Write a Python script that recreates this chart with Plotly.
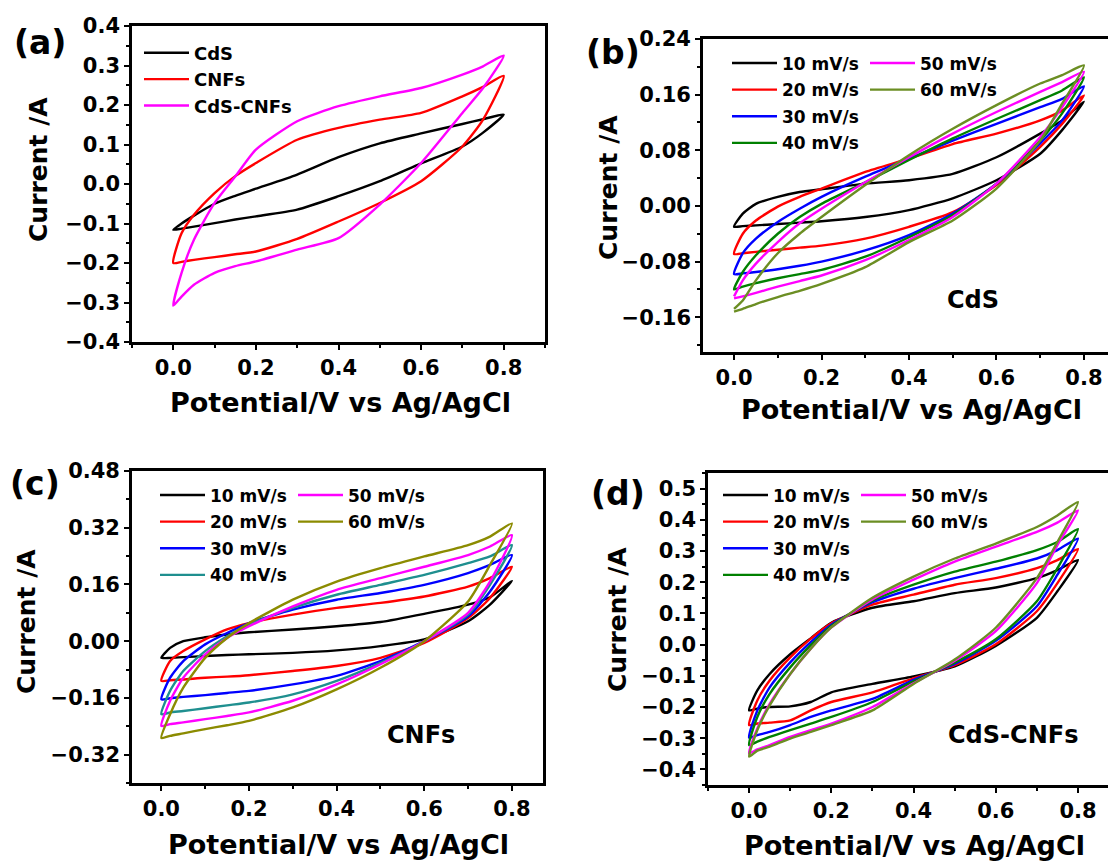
import plotly.graph_objects as go

W, H = 1108, 864
FONT = "DejaVu Sans"

# common potential grid (V vs Ag/AgCl) for forward (anodic) and reverse (cathodic) branches
E = [0.0, 0.02, 0.05, 0.1, 0.15, 0.2, 0.3, 0.4, 0.5, 0.6, 0.7, 0.75, 0.8]

# ---------------- panel (a) ----------------
a_names = ["CdS", "CNFs", "CdS-CNFs"]
a_colors = ["#000000", "#FF0000", "#FF00FF"]
a_fwd = [
    [-0.116, -0.100, -0.080, -0.050, -0.030, -0.012, 0.024, 0.068, 0.103, 0.128, 0.152, 0.164, 0.176],
    [-0.200, -0.125, -0.078, -0.023, 0.020, 0.053, 0.112, 0.142, 0.163, 0.180, 0.222, 0.246, 0.274],
    [-0.308, -0.225, -0.141, -0.048, 0.019, 0.087, 0.159, 0.197, 0.222, 0.243, 0.277, 0.298, 0.325],
]
a_rev = [
    [-0.116, -0.113, -0.108, -0.099, -0.090, -0.082, -0.065, -0.031, 0.007, 0.052, 0.095, 0.130, 0.176],
    [-0.200, -0.197, -0.192, -0.185, -0.178, -0.171, -0.139, -0.095, -0.048, 0.007, 0.095, 0.163, 0.274],
    [-0.308, -0.285, -0.255, -0.225, -0.208, -0.196, -0.166, -0.137, -0.052, 0.053, 0.180, 0.243, 0.325],
]

# ---------------- scan-rate panels ----------------
rates = ["10 mV/s", "20 mV/s", "30 mV/s", "40 mV/s", "50 mV/s", "60 mV/s"]

b_colors = ["#000000", "#FF0000", "#0000FF", "#008000", "#FF00FF", "#6B8E23"]
b_fwd = [
    [-0.030, -0.011, 0.003, 0.013, 0.020, 0.024, 0.032, 0.037, 0.046, 0.070, 0.104, 0.123, 0.150],
    [-0.069, -0.040, -0.021, -0.001, 0.013, 0.025, 0.049, 0.068, 0.089, 0.104, 0.123, 0.137, 0.159],
    [-0.098, -0.068, -0.047, -0.023, -0.004, 0.013, 0.042, 0.068, 0.094, 0.118, 0.142, 0.154, 0.172],
    [-0.120, -0.095, -0.071, -0.040, -0.016, 0.003, 0.034, 0.066, 0.097, 0.125, 0.152, 0.166, 0.185],
    [-0.130, -0.107, -0.083, -0.052, -0.025, -0.004, 0.034, 0.070, 0.104, 0.135, 0.164, 0.178, 0.193],
    [-0.148, -0.136, -0.107, -0.068, -0.040, -0.016, 0.030, 0.073, 0.111, 0.145, 0.176, 0.188, 0.202],
]
b_rev = [
    [-0.030, -0.029, -0.028, -0.026, -0.024, -0.022, -0.016, -0.006, 0.011, 0.037, 0.075, 0.109, 0.150],
    [-0.069, -0.068, -0.066, -0.063, -0.060, -0.057, -0.047, -0.030, -0.009, 0.030, 0.085, 0.118, 0.159],
    [-0.098, -0.097, -0.095, -0.091, -0.086, -0.080, -0.064, -0.042, -0.011, 0.032, 0.090, 0.123, 0.172],
    [-0.120, -0.116, -0.111, -0.104, -0.098, -0.092, -0.073, -0.045, -0.013, 0.032, 0.094, 0.133, 0.185],
    [-0.133, -0.130, -0.125, -0.116, -0.108, -0.100, -0.078, -0.049, -0.016, 0.032, 0.099, 0.142, 0.193],
    [-0.152, -0.148, -0.141, -0.131, -0.122, -0.112, -0.088, -0.052, -0.021, 0.025, 0.094, 0.147, 0.202],
]

c_colors = ["#000000", "#FF0000", "#0000FF", "#1F8F8F", "#FF00FF", "#8B8B00"]
c_fwd = [
    [-0.047, -0.019, 0.000, 0.011, 0.019, 0.025, 0.033, 0.042, 0.054, 0.077, 0.103, 0.124, 0.170],
    [-0.112, -0.056, -0.028, 0.005, 0.033, 0.051, 0.075, 0.094, 0.108, 0.126, 0.154, 0.178, 0.210],
    [-0.164, -0.103, -0.056, -0.009, 0.023, 0.051, 0.089, 0.117, 0.136, 0.159, 0.192, 0.215, 0.243],
    [-0.206, -0.140, -0.084, -0.028, 0.014, 0.047, 0.094, 0.131, 0.159, 0.187, 0.220, 0.239, 0.271],
    [-0.239, -0.168, -0.103, -0.037, 0.009, 0.042, 0.098, 0.145, 0.178, 0.210, 0.243, 0.267, 0.299],
    [-0.273, -0.206, -0.131, -0.047, 0.009, 0.051, 0.117, 0.168, 0.206, 0.239, 0.271, 0.295, 0.332],
]
c_rev = [
    [-0.047, -0.047, -0.045, -0.042, -0.039, -0.037, -0.033, -0.026, -0.014, 0.005, 0.056, 0.103, 0.170],
    [-0.112, -0.110, -0.108, -0.103, -0.100, -0.096, -0.084, -0.070, -0.047, -0.005, 0.065, 0.122, 0.210],
    [-0.164, -0.161, -0.157, -0.152, -0.146, -0.140, -0.122, -0.098, -0.056, 0.000, 0.070, 0.140, 0.243],
    [-0.206, -0.201, -0.197, -0.189, -0.181, -0.173, -0.150, -0.112, -0.061, 0.000, 0.075, 0.159, 0.271],
    [-0.239, -0.234, -0.229, -0.220, -0.211, -0.201, -0.168, -0.122, -0.065, 0.000, 0.080, 0.168, 0.299],
    [-0.273, -0.267, -0.260, -0.248, -0.237, -0.225, -0.187, -0.136, -0.075, 0.000, 0.112, 0.215, 0.332],
]

d_colors = ["#000000", "#FF0000", "#0000FF", "#008000", "#FF00FF", "#6B8E23"]
d_fwd = [
    [-0.211, -0.147, -0.094, -0.031, 0.020, 0.070, 0.118, 0.139, 0.165, 0.183, 0.213, 0.239, 0.271],
    [-0.258, -0.179, -0.115, -0.041, 0.019, 0.068, 0.128, 0.160, 0.192, 0.213, 0.245, 0.271, 0.306],
    [-0.298, -0.211, -0.137, -0.057, 0.008, 0.064, 0.136, 0.179, 0.213, 0.243, 0.276, 0.303, 0.340],
    [-0.322, -0.232, -0.158, -0.073, -0.002, 0.060, 0.141, 0.192, 0.234, 0.266, 0.303, 0.329, 0.370],
    [-0.349, -0.269, -0.190, -0.094, -0.013, 0.055, 0.145, 0.208, 0.266, 0.314, 0.361, 0.391, 0.430],
    [-0.359, -0.274, -0.195, -0.094, -0.013, 0.055, 0.150, 0.218, 0.276, 0.324, 0.377, 0.414, 0.457],
]
d_rev = [
    [-0.211, -0.205, -0.200, -0.198, -0.184, -0.153, -0.126, -0.102, -0.070, -0.004, 0.086, 0.171, 0.271],
    [-0.258, -0.253, -0.250, -0.243, -0.211, -0.184, -0.153, -0.108, -0.066, 0.001, 0.107, 0.197, 0.306],
    [-0.298, -0.290, -0.280, -0.258, -0.232, -0.211, -0.174, -0.113, -0.062, 0.012, 0.123, 0.224, 0.340],
    [-0.322, -0.311, -0.296, -0.274, -0.253, -0.232, -0.184, -0.118, -0.058, 0.017, 0.139, 0.245, 0.370],
    [-0.349, -0.336, -0.322, -0.296, -0.274, -0.253, -0.200, -0.124, -0.052, 0.043, 0.197, 0.319, 0.430],
    [-0.359, -0.340, -0.327, -0.301, -0.280, -0.258, -0.211, -0.126, -0.048, 0.054, 0.213, 0.329, 0.457],
]


def px_x(p):
    return p / W


def px_y(p):
    return 1 - p / H


def loop(fwd, rev):
    xs = list(E) + list(E[::-1][1:])
    ys = list(fwd) + list(rev[::-1][1:])
    return xs, ys


fig = go.Figure()
LW = 2.4


def add_curves(fwd, rev, names, colors, xa, ya, legends, tag):
    for i, (f, r) in enumerate(zip(fwd, rev)):
        xs, ys = loop(f, r)
        fig.add_trace(go.Scatter(
            x=xs, y=ys, mode="lines", name=names[i],
            line=dict(color=colors[i], width=LW, shape="spline", smoothing=0.6),
            xaxis=xa, yaxis=ya, legend=legends[i], legendgroup=f"{tag}{i}",
        ))


add_curves(a_fwd, a_rev, a_names, a_colors, "x", "y", ["legend"] * 3, "a")
add_curves(b_fwd, b_rev, rates, b_colors, "x2", "y2", ["legend2"] * 4 + ["legend3"] * 2, "b")
add_curves(c_fwd, c_rev, rates, c_colors, "x3", "y3", ["legend4"] * 4 + ["legend5"] * 2, "c")
add_curves(d_fwd, d_rev, rates, d_colors, "x4", "y4", ["legend6"] * 4 + ["legend7"] * 2, "d")

TICKFONT = dict(family=FONT, size=21, color="black", weight=700)


def xaxis(dom, rng, anchor):
    return dict(domain=[px_x(dom[0]), px_x(dom[1])], range=rng, anchor=anchor,
                showline=True, linecolor="black", linewidth=2.6, mirror=True,
                ticks="outside", ticklen=5, tickwidth=2, tickcolor="black",
                tick0=0, dtick=0.2, tickformat=".1f", tickfont=TICKFONT,
                minor=dict(ticks="outside", ticklen=3, tickwidth=2, tickcolor="black", dtick=0.1, tick0=0),
                showgrid=False, zeroline=False, fixedrange=True)


def yaxis(dom, rng, anchor, dt, fmt, mirror):
    return dict(domain=[px_y(dom[1]), px_y(dom[0])], range=rng, anchor=anchor,
                showline=True, linecolor="black", linewidth=2.6, mirror=mirror,
                ticks="outside", ticklen=5, tickwidth=2, tickcolor="black",
                tick0=0, dtick=dt, tickformat=fmt, tickfont=TICKFONT,
                minor=dict(ticks="outside", ticklen=3, tickwidth=2, tickcolor="black", dtick=dt / 2, tick0=0),
                showgrid=False, zeroline=False, fixedrange=True)


def legend(text_left, row1, size, gap):
    # text_left / row1: pixel position of first entry's text start and row centre
    return dict(x=px_x(text_left - 55), y=px_y(row1 - 17.5), xanchor="left", yanchor="top",
                bgcolor="rgba(0,0,0,0)", borderwidth=0,
                font=dict(family=FONT, size=size, color="black", weight=700),
                tracegroupgap=gap, itemwidth=45)


fig.update_layout(
    width=W, height=H, margin=dict(l=0, r=0, t=0, b=0, autoexpand=False),
    paper_bgcolor="white", plot_bgcolor="white",
    showlegend=True,
    xaxis=xaxis((132, 545), [-0.1, 0.9], "y"),
    yaxis=yaxis((26, 342), [-0.4, 0.4], "x", 0.1, ".1f", True),
    xaxis2=xaxis((703, 1108), [-0.071, 0.855], "y2"),
    yaxis2=yaxis((39, 352), [-0.21, 0.24], "x2", 0.08, ".2f", False),
    xaxis3=xaxis((132, 543), [-0.067, 0.871], "y3"),
    yaxis3=yaxis((471, 783), [-0.40, 0.48], "x3", 0.16, ".2f", True),
    xaxis4=xaxis((708, 1108), [-0.1, 0.873], "y4"),
    yaxis4=yaxis((473, 785), [-0.45, 0.55], "x4", 0.1, ".1f", False),
    legend=legend(194, 52, 18, 0),
    legend2=legend(782, 63, 17, 1.5),
    legend3=legend(920, 63, 17, 1.5),
    legend4=legend(210, 495, 17, 1.5),
    legend5=legend(348, 495, 17, 1.5),
    legend6=legend(773, 495, 17, 1.5),
    legend7=legend(911, 495, 17, 1.5),
)

ann = []


def text(s, xp, yp, size, angle=0):
    ann.append(dict(text=s, x=px_x(xp), y=px_y(yp), xref="paper", yref="paper",
                    showarrow=False, xanchor="center", yanchor="middle", textangle=angle,
                    font=dict(family=FONT, size=size, color="black", weight=700)))


# panel labels
text("(a)", 40, 42, 33)
text("(b)", 613, 53, 33)
text("(c)", 35, 483, 33)
text("(d)", 618, 493, 33)
# y titles
text("Current /A", 38, 170, 25, -90)
text("Current /A", 609, 188, 25, -90)
text("Current /A", 26, 622, 25, -90)
text("Current /A", 617, 620, 25, -90)
# x titles
text("Potential/V vs Ag/AgCl", 340, 403, 27)
text("Potential/V vs Ag/AgCl", 911, 410, 27)
text("Potential/V vs Ag/AgCl", 338, 844, 27)
text("Potential/V vs Ag/AgCl", 914, 845, 27)
# sample names
text("CdS", 973, 300, 24)
text("CNFs", 421, 735, 24)
text("CdS-CNFs", 1013, 735, 24)

fig.update_layout(annotations=ann)
fig.write_html(
    "out.html",
    config={"displayModeBar": False},
    post_script="document.body.style.margin='0px';document.body.style.padding='0px';document.body.style.overflow='hidden';",
)
